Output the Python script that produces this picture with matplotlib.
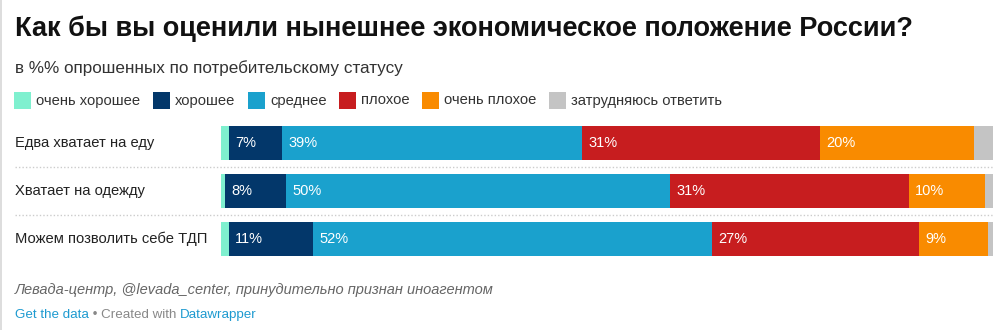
import matplotlib.pyplot as plt
from matplotlib.patches import Rectangle
from matplotlib.transforms import blended_transform_factory

# Оценка экономического положения по потребительскому статусу, %
groups = ["Едва хватает на еду", "Хватает на одежду", "Можем позволить себе ТДП"]
answers = ["очень хорошее", "хорошее", "среднее", "плохое", "очень плохое", "затрудняюсь ответить"]
very_good = [1, 0.5, 1]
good = [7, 8, 11]
average = [39, 50, 52]
bad = [31, 31, 27]
very_bad = [20, 10, 9]
hard_to_say = [2.5, 1, 0.7]

colors = ["#7ff0cf", "#03376a", "#1aa1cd", "#c71d1f", "#f98b00", "#c4c4c4"]
series = [very_good, good, average, bad, very_bad, hard_to_say]
labeled = [False, True, True, True, True, False]

W, H = 1008, 330
fig = plt.figure(figsize=(W / 100, H / 100), dpi=100)
fig.patch.set_facecolor("white")

def fx(x):
    return x / W

def fy(y):
    return 1 - y / H

TXT = "Liberation Sans"

# светлая полоска слева
fig.patches.append(Rectangle((0, 0), fx(2), 1, transform=fig.transFigure,
                             facecolor="#dddddd", edgecolor="none"))

fig.text(fx(15), fy(35.5), "Как бы вы оценили нынешнее экономическое положение России?",
         fontsize=19.5, fontweight="bold", family=TXT, color="#111111", va="baseline")
fig.text(fx(15), fy(73.5), "в %% опрошенных по потребительскому статусу",
         fontsize=12.3, family=TXT, color="#333333", va="baseline")

# легенда
legend_x = [14, 153, 248, 339, 422, 549]
for lx, name, c in zip(legend_x, answers, colors):
    fig.patches.append(Rectangle((fx(lx), fy(109)), fx(17), 17 / H,
                                 transform=fig.transFigure, facecolor=c, edgecolor="none"))
    fig.text(fx(lx + 22), fy(100.5), name, fontsize=10.6, family=TXT,
             color="#333333", va="center")

# столбцы: каждая строка приводится к 100%
ax = fig.add_axes([fx(221), fy(263), fx(993) - fx(221), 144 / H])
ax.set_xlim(0, 100)
ax.set_ylim(2.5, -0.5)
ax.axis("off")

for i, g in enumerate(groups):
    total = sum(vals[i] for vals in series)
    left = 0
    for vals, c, lab in zip(series, colors, labeled):
        v = vals[i]
        w = v / total * 100
        ax.barh(i, w, left=left, height=0.69, color=c, edgecolor="none")
        if lab:
            ax.annotate(f"{v}%", (left, i), xytext=(4.5, 0), textcoords="offset points",
                        ha="left", va="center", color="white", fontsize=10.5,
                        family=TXT)
        left += w

trans = blended_transform_factory(fig.transFigure, ax.transData)
for i, g in enumerate(groups):
    ax.text(fx(15), i, g, transform=trans, ha="left", va="center",
            fontsize=10.6, family=TXT, color="#222222")
for sep in [0.5, 1.5]:
    ax.plot([fx(15), fx(993)], [sep, sep], transform=trans, clip_on=False,
            color="#cccccc", linewidth=1, linestyle=(0, (1, 1.5)))

# подписи
fig.text(fx(15), fy(294), "Левада-центр, @levada_center, принудительно признан иноагентом",
         fontsize=10.5, family=TXT, style="italic", color="#666666", va="baseline")
t1 = fig.text(fx(15), fy(318), "Get the data", fontsize=9.6, family=TXT,
              color="#1d9ad0", va="baseline")
fig.canvas.draw()
r = fig.canvas.get_renderer()
x1 = t1.get_window_extent(r).x1
t2 = fig.text(x1 / W, fy(318), " • Created with ", fontsize=9.6, family=TXT,
              color="#888888", va="baseline")
x2 = t2.get_window_extent(r).x1
fig.text(x2 / W, fy(318), "Datawrapper", fontsize=9.6, family=TXT,
         color="#1d9ad0", va="baseline")

fig.savefig("out.png", dpi=100, facecolor="white")
